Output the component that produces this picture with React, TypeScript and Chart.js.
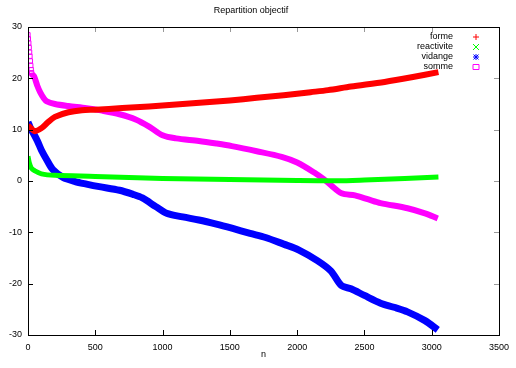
import React, { useEffect, useRef } from "react";
import { Chart, registerables } from "chart.js";
Chart.register(...registerables);

const title = "Repartition objectif";
const xLabel = "n";
const seriesNames = ["forme", "reactivite", "vidange", "somme"];

const formeN = [0, 25, 50, 100, 150, 200, 300, 400, 500, 700, 900, 1100, 1300, 1500, 1700, 1900, 2100, 2230, 2400, 2650, 2850, 3050];
const formeV = [10.8, 10.2, 9.7, 10.3, 11.5, 12.5, 13.4, 13.8, 13.9, 14.2, 14.5, 14.9, 15.3, 15.7, 16.2, 16.7, 17.3, 17.7, 18.4, 19.3, 20.2, 21.2];

const reactN = [0, 10, 25, 50, 100, 200, 500, 1000, 1500, 2000, 2300, 2500, 2800, 3050];
const reactV = [4.8, 3.5, 2.5, 2.0, 1.4, 1.1, 0.9, 0.5, 0.3, 0.1, 0.05, 0.2, 0.5, 0.8];

const vidN = [0, 20, 40, 70, 100, 140, 185, 260, 350, 435, 530, 680, 780, 850, 950, 1030, 1150, 1270, 1400, 1515, 1650, 1765, 1900, 2010, 2150, 2250, 2330, 2400, 2500, 2620, 2720, 2820, 2950, 3045];
const vidV = [11.5, 10.2, 9.3, 7.8, 6.0, 4.1, 2.2, 0.7, -0.1, -0.6, -1.1, -1.8, -2.6, -3.3, -5.0, -6.3, -7.0, -7.6, -8.4, -9.2, -10.2, -11.0, -12.3, -13.4, -15.5, -17.5, -20.4, -21.0, -22.3, -23.8, -24.6, -25.5, -27.2, -29.0];

const sommeN = [0, 3, 6, 9, 12, 15, 18, 21, 24, 27, 30, 45, 70, 90, 115, 140, 200, 300, 435, 550, 680, 800, 900, 1000, 1100, 1270, 1400, 1515, 1700, 1885, 2000, 2130, 2200, 2255, 2330, 2430, 2530, 2620, 2820, 2950, 3045];
const sommeV = [28.5, 27.7, 26.9, 26.0, 25.1, 24.3, 23.4, 22.5, 21.7, 21.1, 20.8, 20.4, 18.5, 17.3, 16.2, 15.5, 15.0, 14.6, 14.2, 13.7, 13.0, 12.0, 10.6, 8.9, 8.3, 7.8, 7.3, 6.8, 5.8, 4.7, 3.6, 1.6, 0.3, -0.9, -2.4, -2.8, -3.6, -4.3, -5.3, -6.3, -7.3];

const xTicks = [0, 500, 1000, 1500, 2000, 2500, 3000, 3500];
const yTicks = [-30, -20, -10, 0, 10, 20, 30];

const colors = ["#ff0000", "#00ff00", "#0000ff", "#ff00ff"];
const FONT = "'Liberation Sans', Arial, sans-serif";

function pts(n: number[], v: number[]) {
  return n.map((x, i) => ({ x, y: v[i] }));
}

const framePlugin = {
  id: "frame",
  beforeDatasetsDraw(chart: any) {
    const { ctx } = chart;
    ctx.save();
    ctx.font = `9px ${FONT}`;
    ctx.textAlign = "right";
    ctx.textBaseline = "middle";
    const rows = [37, 47, 57, 67];
    seriesNames.forEach((name, i) => {
      const y = rows[i];
      ctx.fillStyle = "#000";
      ctx.fillText(name, 453, y);
      const cx = 476;
      ctx.strokeStyle = colors[i];
      ctx.lineWidth = 1;
      ctx.beginPath();
      if (i === 0) {
        ctx.moveTo(cx - 3, y); ctx.lineTo(cx + 3, y);
        ctx.moveTo(cx, y - 3); ctx.lineTo(cx, y + 3);
      } else if (i === 1) {
        ctx.moveTo(cx - 3, y - 3); ctx.lineTo(cx + 3, y + 3);
        ctx.moveTo(cx - 3, y + 3); ctx.lineTo(cx + 3, y - 3);
      } else if (i === 2) {
        ctx.moveTo(cx - 3, y); ctx.lineTo(cx + 3, y);
        ctx.moveTo(cx, y - 3); ctx.lineTo(cx, y + 3);
        ctx.moveTo(cx - 2.5, y - 2.5); ctx.lineTo(cx + 2.5, y + 2.5);
        ctx.moveTo(cx - 2.5, y + 2.5); ctx.lineTo(cx + 2.5, y - 2.5);
      } else {
        ctx.rect(cx - 3, y - 2.5, 6, 5);
      }
      ctx.stroke();
    });
    ctx.restore();
  },
  afterDraw(chart: any) {
    const { ctx, chartArea: a, scales } = chart;
    ctx.save();
    ctx.lineWidth = 1;
    const L = 5;
    xTicks.forEach((t) => {
      const x = Math.round(scales.x.getPixelForValue(t)) + 0.5;
      ctx.strokeStyle = "#000";
      ctx.beginPath(); ctx.moveTo(x, a.bottom); ctx.lineTo(x, a.bottom - L); ctx.stroke();
      ctx.strokeStyle = "#999";
      ctx.beginPath(); ctx.moveTo(x, a.top); ctx.lineTo(x, a.top + L); ctx.stroke();
    });
    yTicks.forEach((t) => {
      const y = Math.round(scales.y.getPixelForValue(t)) + 0.5;
      ctx.strokeStyle = "#000";
      ctx.beginPath(); ctx.moveTo(a.left, y); ctx.lineTo(a.left + L, y); ctx.stroke();
      ctx.strokeStyle = "#999";
      ctx.beginPath(); ctx.moveTo(a.right, y); ctx.lineTo(a.right - L, y); ctx.stroke();
    });
    ctx.strokeStyle = "#000";
    ctx.strokeRect(Math.round(a.left) + 0.5, Math.round(a.top) + 0.5, Math.round(a.right - a.left), Math.round(a.bottom - a.top));
    ctx.restore();
  },
};

export default function App() {
  const ref = useRef<HTMLCanvasElement | null>(null);
  useEffect(() => {
    if (!ref.current) return;
    const chart = new Chart(ref.current, {
      type: "scatter",
      data: {
        datasets: [
          { label: seriesNames[0], data: pts(formeN, formeV), borderColor: colors[0], backgroundColor: colors[0], borderWidth: 6, showLine: true, pointRadius: 0, tension: 0.3 },
          { label: seriesNames[1], data: pts(reactN, reactV), borderColor: colors[1], backgroundColor: colors[1], borderWidth: 5, showLine: true, pointRadius: 0, tension: 0.3 },
          { label: seriesNames[2], data: pts(vidN, vidV), borderColor: colors[2], backgroundColor: colors[2], borderWidth: 7, showLine: true, pointRadius: 0, tension: 0.3 },
          {
            label: seriesNames[3], data: pts(sommeN, sommeV), borderColor: colors[3], backgroundColor: "rgba(255,255,255,0)", borderWidth: 6, showLine: true,
            pointStyle: "rect",
            pointRadius: (c: any) => (c.raw && c.raw.x <= 27 ? 3 : 0),
            pointBorderWidth: 1,
            pointBorderColor: colors[3],
            segment: { borderColor: (c: any) => (c.p0.parsed.x < 27 ? "rgba(0,0,0,0)" : colors[3]) },
            tension: 0.3,
          },
        ],
      },
      options: {
        responsive: false,
        animation: false,
        layout: { padding: { top: 0, left: 0, right: 14, bottom: 0 } },
        plugins: {
          legend: { display: false },
          tooltip: { enabled: false },
          title: { display: true, text: title, color: "#000", font: { family: FONT, size: 9, weight: "normal" }, padding: { top: 5, bottom: 11.2 } },
        },
        scales: {
          x: {
            type: "linear", min: 0, max: 3500,
            afterBuildTicks: (s: any) => { s.ticks = xTicks.map((v) => ({ value: v })); },
            afterFit: (s: any) => { s.height = 33; },
            grid: { display: false, drawTicks: false },
            border: { display: false },
            ticks: { color: "#000", font: { family: FONT, size: 9 }, padding: 7, maxRotation: 0, autoSkip: false, callback: (v: any) => String(v) },
            title: { display: true, text: xLabel, color: "#000", font: { family: FONT, size: 9 }, padding: { top: 0, bottom: 8 } },
          },
          y: {
            type: "linear", min: -30, max: 30,
            afterBuildTicks: (s: any) => { s.ticks = yTicks.map((v) => ({ value: v })); },
            afterFit: (s: any) => { s.width = 28; },
            grid: { display: false, drawTicks: false },
            border: { display: false },
            ticks: { color: "#000", font: { family: FONT, size: 9 }, padding: 6, callback: (v: any) => String(v) },
          },
        },
      },
      plugins: [framePlugin],
    } as any);
    return () => chart.destroy();
  }, []);
  return (
    <div style={{ position: "fixed", left: 0, top: 0, width: 516, height: 368, background: "#fff" }}>
      <canvas ref={ref} width={516} height={368} />
    </div>
  );
}
